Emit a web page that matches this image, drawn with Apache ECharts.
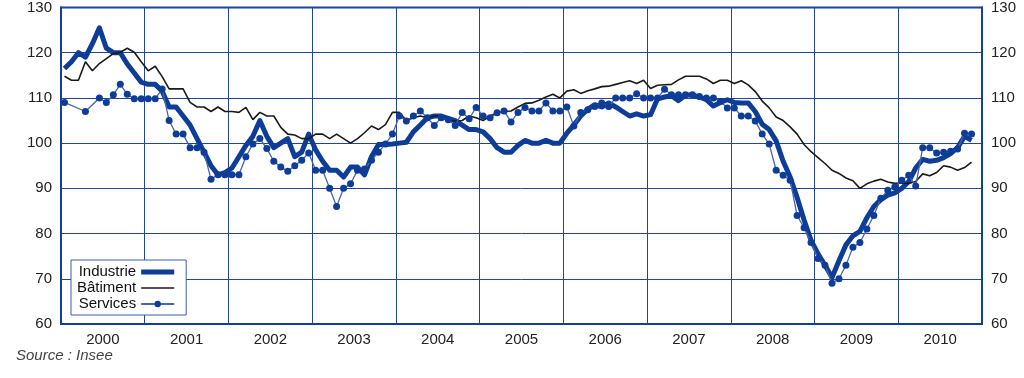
<!DOCTYPE html>
<html>
<head>
<meta charset="utf-8">
<script src="https://cdn.jsdelivr.net/npm/echarts@6/dist/echarts.min.js"></script>
<style>
  html, body { margin: 0; padding: 0; background: #fff; }
  #chart { width: 1024px; height: 378px; }
</style>
</head>
<body>
<div id="chart"></div>
<script>
// years shown on the axis, one label per year
const years = ['2000','2001','2002','2003','2004','2005','2006','2007','2008','2009','2010'];

// monthly categories Jan 2000 .. Dec 2010
const months = [];
years.forEach(y => { for (let m = 1; m <= 12; m++) months.push(y + '-' + (m < 10 ? '0' + m : m)); });

// monthly values
const industrie = [
  116.5,118,120,119,122,125.5,121,120,120,117.5,115.5,113.5,
  113,113,111.5,108,108,106,104,101,98,95,93,93.5,
  94.5,97,99.5,101.5,105,101.5,99,100,101,97,98,102,
  98.5,96,94,94,92.5,94.7,94.7,93,97,99.7,99.7,99.8,
  100,100.2,102.5,104,105.6,106,106,105.5,105,104,103,103,
  102.5,101,99,98,98,99.5,100.6,100,100,100.6,100,100,
  102.2,104,106,107.5,108.5,108,108.9,108,107,106,106.5,106,
  106.3,109.8,110.2,110.5,109.4,110.6,110.7,110.2,109.6,108.2,109,109.6,
  109,108.9,108.9,107,104.2,103,100.5,96,92.5,88,83,78.5,
  75.5,73,70.3,74,77.5,79.5,80.5,83.5,86,87.5,88.5,89,
  90,91.5,94.5,96.4,96,96.2,96.8,97.7,99,101.5,100.6,null
];
const batiment = [
  114.8,113.9,113.9,118,116,117.6,118.7,119.8,120.1,121,120.1,118,
  116,117,114.7,112,112,112,109,108,108,107,108,107,
  107,106.8,107.9,105.2,106.8,106,106,103.5,102,101.8,101,101,
  102,102,101,102,101,100,101,102.3,103.8,103,104.1,106.8,
  106.8,105,105.6,106,105.6,106,106,105,104.9,105,106,105.6,
  105,106,106.7,107,107.1,108,108.8,108.9,109.5,110.2,110.8,110,
  111.5,111.8,111,111.6,112,112.5,112.6,113,113.4,113.8,113.2,113.9,
  112.1,112.8,112.9,113,114,114.8,114.8,114.8,114.2,113.2,113.9,113.9,
  113.2,113.8,112.9,111.4,109.3,107.8,105.8,105,103.6,102,99.7,98.1,
  96.8,95.5,94,93.3,92.3,91.7,90,91,91.6,92,91.4,91.1,
  91.2,91.1,91.5,93.2,92.8,93.5,95,94.7,94,94.6,95.8,null
];
const services = [
  109,null,null,107,null,110,109,110.7,113,110.8,109.8,109.8,
  109.8,109.8,112,105,102,102,99,99,98,92,93,93,
  93,93,97,99.8,101,98.8,96,94.7,93.8,95,96.2,97.8,
  94,94,90,86,90,91,94,94.3,96.2,98,99.8,102,
  106,104.9,106,107.1,105.6,103.9,105.6,105.2,103.9,106.8,105.4,107.9,
  106,105.6,106.7,107.1,104.7,106.8,107.9,107.1,107.1,108.9,107.1,107.1,
  108,103.8,106.8,107.4,108.1,108.9,108.1,110,110,110,110.9,110,
  110,110,111.9,110.7,110.7,110.7,110.7,110.3,110,110,109.2,107.8,
  107.8,106,106,104.9,102,99.8,94,92.9,91.8,84,81.3,78,
  74.5,73,69,70,73,77,78,81,84,87.8,89.6,90.3,
  91.8,92.9,90.5,99,99,97.8,98,98.2,98.7,102.2,102,null
];

const blue = '#123f98';
const gridBlue = '#24439a';
const font = '"Liberation Sans", Arial, sans-serif';

// legend icons: a bar inside a 33x8 box (tiny corner dots fix the box size)
const thickIcon = 'path://M0,0h0.01v0.01h-0.01z M0,1.5h33v5h-33z M32.99,7.99h0.01v0.01h-0.01z';
const thinIcon = 'path://M0,0h0.01v0.01h-0.01z M0,3.2h33v1.6h-33z M32.99,7.99h0.01v0.01h-0.01z';

var chartDom = document.getElementById('chart');
var myChart = echarts.init(chartDom);

var option = {
  animation: false,
  grid: {
    left: 61, right: 42, top: 3, bottom: 54,
    show: true, borderColor: blue, borderWidth: 2, backgroundColor: 'transparent'
  },
  legend: {
    orient: 'vertical',
    left: 71, top: 260,
    align: 'right',
    padding: [4, 11, 3, 6],
    itemGap: 0,
    itemWidth: 33, itemHeight: 8,
    backgroundColor: '#fff',
    borderColor: '#3b5ea8', borderWidth: 1,
    textStyle: { fontFamily: font, fontSize: 15, color: '#111', lineHeight: 16 },
    data: [
      { name: 'Industrie', icon: thickIcon },
      { name: 'Bâtiment', icon: thinIcon },
      { name: 'Services' }
    ]
  },
  xAxis: [
    {
      type: 'category',
      data: years,
      boundaryGap: true,
      axisLine: { show: true, lineStyle: { color: blue, width: 2 } },
      axisTick: { show: false },
      axisLabel: { fontFamily: font, fontSize: 15, color: '#222', margin: 8 },
      splitLine: { show: true, lineStyle: { color: gridBlue, width: 1 } }
    },
    {
      type: 'category',
      data: months,
      boundaryGap: true,
      show: false
    }
  ],
  yAxis: [
    {
      type: 'value', position: 'left',
      min: 60, max: 130, interval: 10,
      axisLine: { show: true, lineStyle: { color: blue, width: 2 } },
      axisTick: { show: false },
      axisLabel: { fontFamily: font, fontSize: 15, color: '#222', margin: 9 },
      splitLine: { show: true, lineStyle: { color: gridBlue, width: 1 } }
    },
    {
      type: 'value', position: 'right',
      min: 60, max: 130, interval: 10,
      axisLine: { show: true, lineStyle: { color: blue, width: 2 } },
      axisTick: { show: false },
      axisLabel: { fontFamily: font, fontSize: 15, color: '#222', margin: 9 },
      splitLine: { show: false }
    }
  ],
  series: [
    {
      name: 'Industrie', type: 'line', xAxisIndex: 1, yAxisIndex: 0,
      data: industrie, symbol: 'none',
      lineStyle: { color: '#0e3d98', width: 5, join: 'round' },
      itemStyle: { color: '#0e3d98' }
    },
    {
      name: 'Bâtiment', type: 'line', xAxisIndex: 1, yAxisIndex: 0,
      data: batiment, symbol: 'none',
      lineStyle: { color: '#1a1a1a', width: 1.6 },
      itemStyle: { color: '#1a1a1a' }
    },
    {
      name: 'Services', type: 'line', xAxisIndex: 1, yAxisIndex: 0,
      data: services, connectNulls: true,
      symbol: 'circle', symbolSize: 7, showAllSymbol: true,
      lineStyle: { color: '#4867a8', width: 1.3 },
      itemStyle: { color: '#0e3d98' }
    }
  ],
  graphic: [
    {
      type: 'text', left: 16, top: 348,
      style: { text: 'Source : Insee', font: 'italic 15px "Liberation Sans", Arial, sans-serif', fill: '#444' }
    }
  ]
};

myChart.setOption(option);
</script>
</body>
</html>
